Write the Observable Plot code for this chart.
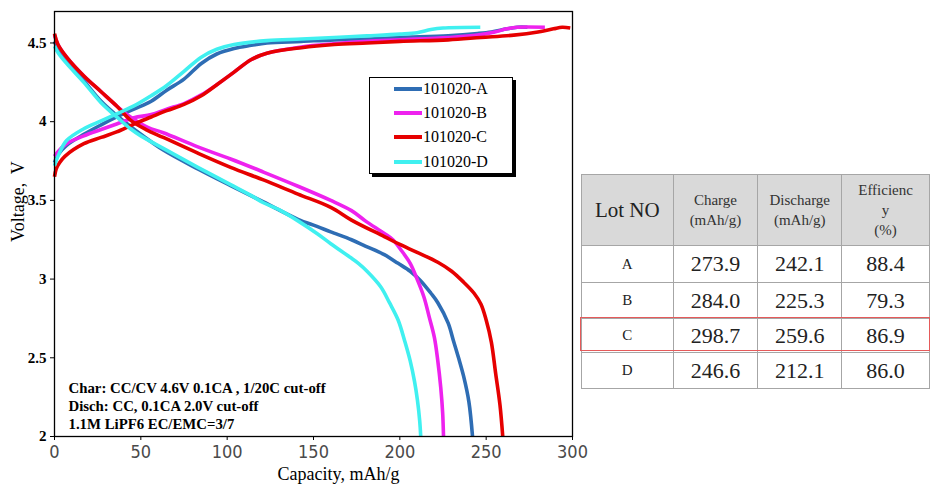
<!DOCTYPE html>
<html>
<head>
<meta charset="utf-8">
<script src="https://cdn.jsdelivr.net/npm/d3@7"></script>
<script src="https://cdn.jsdelivr.net/npm/@observablehq/plot@0.6"></script>
<style>
  body { margin: 0; background: #fff; }
  #wrap { position: relative; width: 930px; height: 488px; overflow: hidden; background: #fff; }
  #chart { position: absolute; left: 0; top: 0; }
  #legend { position: absolute; left: 369px; top: 77px; width: 144px; height: 97px; border: 1px solid #000;
            box-shadow: 3px 3px 0 #000; background: #fff; box-sizing: border-box;
            font-family: "Liberation Serif", serif; font-size: 16px; color: #000; }
  #legend .row { position: absolute; left: 24px; height: 20px; line-height: 20px; white-space: nowrap; }
  #legend .sw { display: inline-block; width: 28px; height: 4px; vertical-align: middle; margin-right: 1px; position: relative; top: -1px; }
  #tbl { position: absolute; left: 581px; top: 174px; border-collapse: collapse; table-layout: fixed;
         font-family: "Liberation Serif", serif; color: #222; }
  #tbl td, #tbl th { border: 1px solid #a6a6a6; text-align: center; vertical-align: middle; padding: 0; }
  #tbl th { background: #d9d9d9; font-weight: normal; font-size: 15px; line-height: 20px; color: #333; }
  #tbl th.lot { font-size: 21px; color: #222; }
  #tbl td { font-size: 22px; }
  #tbl td.lt { font-size: 15px; }
  #hl { position: absolute; left: 580px; top: 317px; width: 350px; height: 34px; border: 1.5px solid #e55a5a; box-sizing: border-box; }
</style>
</head>
<body>
<div id="wrap">
  <div id="chart"></div>
  <div id="legend"></div>
  <div id="tablebox"></div>
</div>
<script>
// ---- data ----
const lots = ["101020-A", "101020-B", "101020-C", "101020-D"];
const lotColors = ["#2e6db4", "#ee22ee", "#e60000", "#40f0f0"];

// charge curves [capacity mAh/g, voltage V]
const chargeA = [[0,3.74],[2,3.79],[7,3.85],[17,3.92],[27,3.98],[36,4.03],[46,4.08],[56,4.13],[65,4.20],[75,4.27],[85,4.37],[94,4.43],[104,4.465],[114,4.485],[123,4.50],[143,4.51],[162,4.52],[181,4.525],[200,4.535],[228,4.546],[245,4.56],[253,4.57],[262,4.59],[268,4.60],[273.9,4.60]];
const chargeB = [[0,3.78],[2,3.81],[7,3.86],[17,3.91],[27,3.95],[36,3.985],[46,4.025],[56,4.045],[65,4.08],[75,4.115],[85,4.17],[94,4.235],[104,4.315],[114,4.395],[123,4.435],[143,4.475],[162,4.495],[181,4.51],[200,4.52],[228,4.535],[245,4.55],[255,4.57],[262,4.59],[268,4.60],[284,4.60]];
const chargeC = [[0,3.65],[1,3.70],[3,3.74],[6,3.78],[17,3.86],[27,3.90],[36,3.935],[46,3.985],[56,4.03],[65,4.07],[75,4.11],[85,4.165],[94,4.235],[104,4.315],[114,4.395],[123,4.435],[143,4.47],[162,4.49],[181,4.50],[200,4.51],[228,4.52],[247,4.535],[266,4.55],[280,4.57],[289,4.59],[294,4.60],[298.7,4.595]];
const chargeD = [[0,3.72],[2,3.78],[7,3.88],[17,3.955],[27,4.005],[36,4.05],[46,4.10],[56,4.165],[65,4.23],[75,4.32],[85,4.41],[94,4.46],[104,4.49],[123,4.515],[143,4.525],[162,4.535],[181,4.545],[200,4.556],[210,4.565],[218,4.585],[225,4.595],[246.6,4.60]];

// discharge curves [capacity mAh/g, voltage V]
const dischargeA = [[0,4.51],[2,4.46],[7,4.39],[17,4.26],[27,4.13],[36,4.04],[44,3.97],[50,3.92],[63,3.82],[83,3.70],[102,3.594],[121,3.49],[141,3.38],[152,3.335],[160,3.30],[172,3.25],[180,3.21],[191,3.155],[199,3.10],[206,3.05],[212,2.99],[218,2.91],[222,2.85],[228,2.72],[231,2.61],[234,2.50],[237,2.38],[240,2.22],[242.1,2.0]];
const dischargeB = [[0,4.55],[2,4.49],[7,4.41],[17,4.29],[27,4.19],[36,4.10],[44,4.03],[54,3.964],[63,3.93],[83,3.84],[102,3.763],[121,3.68],[141,3.59],[160,3.50],[172,3.435],[180,3.37],[191,3.29],[196,3.25],[201,3.18],[206,3.10],[210,3.00],[214,2.885],[217,2.76],[220,2.63],[222,2.48],[223.7,2.31],[224.8,2.15],[225.3,2.0]];
const dischargeC = [[0,4.56],[2,4.49],[7,4.41],[17,4.29],[27,4.19],[36,4.10],[44,4.01],[53,3.95],[63,3.90],[83,3.80],[102,3.71],[121,3.63],[141,3.54],[160,3.456],[172,3.375],[191,3.27],[200,3.22],[210,3.17],[222,3.107],[230,3.05],[237,2.98],[243,2.91],[247,2.84],[250,2.74],[253,2.60],[255.5,2.40],[258,2.20],[259.6,2.0]];
const dischargeD = [[0,4.48],[2,4.44],[7,4.37],[17,4.25],[27,4.12],[36,4.03],[44,3.955],[50,3.91],[63,3.83],[83,3.71],[102,3.60],[114,3.53],[121,3.485],[131,3.435],[141,3.37],[152,3.29],[160,3.225],[171,3.14],[176,3.10],[181,3.05],[189,2.95],[194,2.85],[199,2.74],[203,2.60],[206,2.48],[208.5,2.35],[210.2,2.23],[211.5,2.10],[212.1,2.0]];

const xTicks = [0, 50, 100, 150, 200, 250, 300];
const yTicks = [2, 2.5, 3, 3.5, 4, 4.5];
const xLabel = "Capacity, mAh/g";
const yLabel = "Voltage,  V";
const noteLines = ["Char: CC/CV 4.6V 0.1CA , 1/20C cut-off", "Disch: CC, 0.1CA 2.0V cut-off", "1.1M LiPF6 EC/EMC=3/7"];

// table
const tableHead = ["Lot NO", "Charge\n(mAh/g)", "Discharge\n(mAh/g)", "Efficienc\ny\n(%)"];
const tableLots = ["A", "B", "C", "D"];
const tableCharge = ["273.9", "284.0", "298.7", "246.6"];
const tableDischarge = ["242.1", "225.3", "259.6", "212.1"];
const tableEff = ["88.4", "79.3", "86.9", "86.0"];

// ---- build rows ----
const curves = [[chargeA, dischargeA], [chargeB, dischargeB], [chargeC, dischargeC], [chargeD, dischargeD]];
const rows = [];
curves.forEach(([c, d], i) => {
  c.forEach(([x, y]) => rows.push({lot: lots[i], kind: "charge", x, y}));
  d.forEach(([x, y]) => rows.push({lot: lots[i], kind: "discharge", x, y}));
});

const serif = "'Liberation Serif', 'Times New Roman', serif";
const chart = Plot.plot({
  width: 580,
  height: 488,
  marginLeft: 54,
  marginRight: 8,
  marginTop: 11,
  marginBottom: 52,
  x: {domain: [0, 300]},
  y: {domain: [2, 4.7]},
  color: {domain: lots, range: lotColors},
  style: {background: "#fff", overflow: "visible"},
  marks: [
    Plot.line(rows, {x: "x", y: "y", z: d => d.lot + d.kind, stroke: "lot", strokeWidth: 3.6, curve: "catmull-rom", strokeLinejoin: "round", strokeLinecap: "butt"}),
    Plot.frame({stroke: "#000", strokeWidth: 1.3}),
    Plot.axisX({ticks: xTicks, tickSize: 4, tickFormat: () => "", label: null, stroke: "#000"}),
    Plot.axisY({ticks: yTicks, tickSize: 4, tickFormat: () => "", label: null, stroke: "#000"}),
    Plot.text(xTicks, {x: d => d, text: d => String(d), frameAnchor: "bottom", lineAnchor: "top", dy: 9,
      fontFamily: "'Liberation Sans Narrow', 'DejaVu Sans Condensed', 'Liberation Sans', sans-serif", fontSize: 18, fill: "#4a4a4a"}),
    Plot.text(yTicks, {y: d => d, text: d => String(d), frameAnchor: "left", textAnchor: "end", dx: -8,
      fontFamily: serif, fontSize: 15, fontWeight: "bold", fill: "#000"}),
    Plot.text([xLabel], {frameAnchor: "bottom", dx: 25, dy: 43, fontFamily: serif, fontSize: 18, fill: "#000"}),
    Plot.text([yLabel], {frameAnchor: "left", rotate: -90, dx: -36, dy: 18, fontFamily: serif, fontSize: 18, fill: "#000"}),
    Plot.text([noteLines.join("\n")], {frameAnchor: "bottom-left", textAnchor: "start", lineAnchor: "bottom", dx: 14, dy: -8,
      lineHeight: 1.2, fontFamily: serif, fontSize: 14.8, fontWeight: "bold", fill: "#000"})
  ]
});
document.getElementById("chart").appendChild(chart);

// legend
const legend = document.getElementById("legend");
const rowTops = [1, 25, 49, 74];
lots.forEach((l, i) => {
  const r = document.createElement("div");
  r.className = "row";
  r.style.top = rowTops[i] + "px";
  r.innerHTML = `<span class="sw" style="background:${lotColors[i]}"></span>${l}`;
  legend.appendChild(r);
});

// table
const colW = [92, 85, 84, 88];
const rowH = [37, 36, 34, 36];
let html = `<table id="tbl"><colgroup>${colW.map(w => `<col style="width:${w}px">`).join("")}</colgroup>`;
html += `<tr style="height:71px">${tableHead.map((h, i) => `<th class="${i === 0 ? "lot" : ""}">${h.split("\n").join("<br>")}</th>`).join("")}</tr>`;
tableLots.forEach((l, i) => {
  html += `<tr style="height:${rowH[i]}px"><td class="lt">${l}</td><td>${tableCharge[i]}</td><td>${tableDischarge[i]}</td><td>${tableEff[i]}</td></tr>`;
});
html += `</table><div id="hl"></div>`;
document.getElementById("tablebox").innerHTML = html;
</script>
</body>
</html>
